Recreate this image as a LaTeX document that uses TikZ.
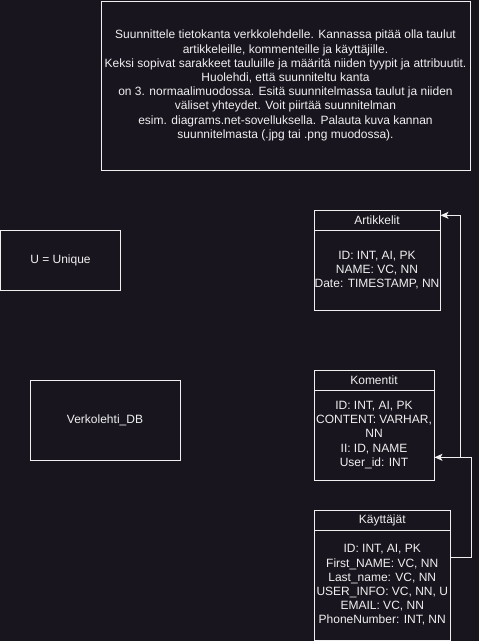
\documentclass[tikz,border=0pt]{standalone}
\usepackage{fontspec}
\setmainfont{Liberation Sans}
\usetikzlibrary{arrows.meta}
\definecolor{bgc}{RGB}{24,21,30}
\definecolor{fgc}{RGB}{240,240,240}
\begin{document}
\begin{tikzpicture}[x=1pt,y=-1pt,
  box/.style={draw=fgc,line width=1pt,text=fgc,inner sep=0pt,align=center,
    font=\fontsize{12}{14.2}\selectfont},
  conn/.style={draw=fgc,line width=1pt},
  arr/.style={-{Stealth[length=8pt,width=7pt,inset=2pt]}}]
\useasboundingbox (0,0) rectangle (479,641);
\fill[bgc] (0,0) rectangle (479,641);
% task box
\node[box,minimum width=369pt,minimum height=169pt] (task) at (285.5,85.5)
 {Suunnittele tietokanta verkkolehdelle. Kannassa pitää olla taulut\\
  artikkeleille, kommenteille ja käyttäjille.\\
  Keksi sopivat sarakkeet tauluille ja määritä niiden tyypit ja attribuutit.\\
  Huolehdi, että suunniteltu kanta\\
  on 3. normaalimuodossa. Esitä suunnitelmassa taulut ja niiden\\
  väliset yhteydet. Voit piirtää suunnitelman\\
  esim. diagrams.net-sovelluksella. Palauta kuva kannan\\
  suunnitelmasta (.jpg tai .png muodossa).};
% legend
\node[box,minimum width=120pt,minimum height=60pt] (uniq) at (60.5,260) {U = Unique};
\node[box,minimum width=150pt,minimum height=80pt] (db) at (105,420) {Verkolehti\_DB};
% Artikkelit
\node[box,minimum width=126pt,minimum height=20pt] (arth) at (377,220) {Artikkelit};
\node[box,minimum width=126pt,minimum height=80pt] (artb) at (377,270)
 {ID: INT, AI, PK\\NAME: VC, NN\\Date: TIMESTAMP, NN};
% Komentit
\node[box,minimum width=120pt,minimum height=20pt] (komh) at (374,380) {Komentit};
\node[box,minimum width=120pt,minimum height=90pt] (komb) at (374,435)
 {ID: INT, AI, PK\\CONTENT: VARHAR,\\NN\\II: ID, NAME\\User\_id: INT};
% Kayttajat
\node[box,minimum width=136.5pt,minimum height=20pt] (kayh) at (382.25,520) {Käyttäjät};
\node[box,minimum width=136.5pt,minimum height=110pt] (kayb) at (382.25,585)
 {ID: INT, AI, PK\\First\_NAME: VC, NN\\Last\_name: VC, NN\\USER\_INFO: VC, NN, U\\EMAIL: VC, NN\\PhoneNumber: INT, NN};
% connectors
\draw[conn,arr] ([yshift=27.7pt]kayb.east) -- ++(20,0) |- ([yshift=-22.3pt]komb.east);
\draw[conn,arr] ([yshift=-22.3pt]komb.east) -- ++(26,0) |- ([yshift=4.7pt]arth.east);
\end{tikzpicture}
\end{document}
